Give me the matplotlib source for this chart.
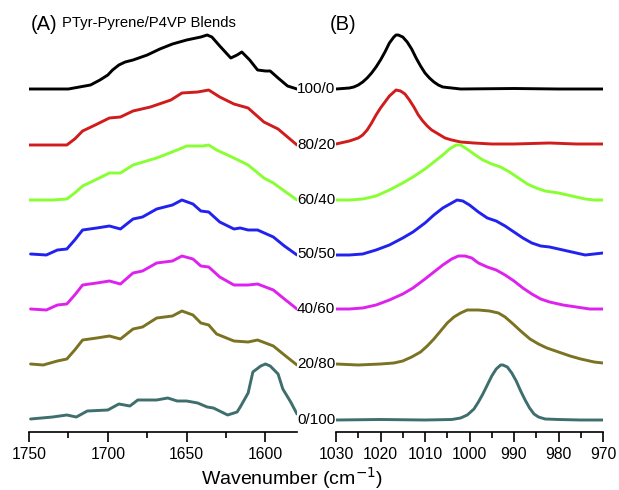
import numpy as np
import matplotlib
matplotlib.use("Agg")
import matplotlib.pyplot as plt
from matplotlib.ticker import MultipleLocator

plt.rcParams['font.family'] = ['Liberation Sans', 'DejaVu Sans']

labels = ["100/0", "80/20", "60/40", "50/50", "40/60", "20/80", "0/100"]
colors = ["#000000", "#d01c1c", "#88ff33", "#2222ee", "#dd22ee", "#7b7222", "#3e6e6e"]
offsets = [343, 287, 232, 178, 123, 68, 12]

# Panel A (1750-1580 cm-1)
a_x = [
    [1750, 1735, 1725, 1718, 1711, 1705, 1700, 1697, 1693, 1689, 1684, 1675, 1667, 1659, 1650, 1641, 1637, 1634, 1629, 1622, 1618, 1615, 1610, 1605, 1600, 1597, 1592, 1586, 1580],
    [1750, 1735, 1726, 1721, 1716, 1708, 1699, 1692, 1684, 1673, 1660, 1653, 1643, 1636, 1629, 1620, 1611, 1601, 1592, 1586, 1580],
    [1750, 1735, 1726, 1721, 1716, 1708, 1699, 1692, 1684, 1669, 1656, 1650, 1640, 1636, 1631, 1620, 1611, 1601, 1595, 1588, 1580],
    [1749, 1739, 1732, 1726, 1721, 1716, 1707, 1699, 1692, 1684, 1678, 1669, 1659, 1653, 1646, 1641, 1636, 1629, 1620, 1616, 1611, 1605, 1595, 1588, 1580],
    [1749, 1739, 1732, 1726, 1721, 1716, 1707, 1699, 1692, 1684, 1678, 1669, 1659, 1653, 1646, 1641, 1636, 1629, 1620, 1611, 1605, 1595, 1588, 1580],
    [1749, 1741, 1732, 1726, 1721, 1716, 1707, 1699, 1692, 1684, 1678, 1669, 1659, 1653, 1646, 1641, 1636, 1631, 1620, 1611, 1605, 1595, 1588, 1580],
    [1749, 1735, 1726, 1720, 1713, 1700, 1693, 1686, 1681, 1669, 1662, 1656, 1650, 1643, 1637, 1633, 1624, 1618, 1616, 1611, 1608, 1603, 1600, 1597, 1592, 1589, 1584, 1580],
]
a_y = [
    [0, 0, 0, 2, 4, 9, 14, 19, 24, 27, 29, 34, 40, 45, 49, 52, 54, 52, 43, 31, 34, 37, 29, 19, 18, 18, 11, 3, 0],
    [0, 0, 0, 6, 14, 20, 27, 28, 34, 38, 45, 52, 53, 55, 48, 41, 37, 23, 16, 8, 0],
    [0, 0, 1, 7, 14, 20, 27, 27, 35, 42, 50, 54, 54, 55, 50, 42, 35, 22, 17, 9, 0],
    [0, -1, 4, 5, 14, 24, 26, 28, 25, 35, 37, 45, 49, 54, 50, 43, 42, 32, 25, 26, 24, 24, 17, 8, -1],
    [0, -1, 4, 5, 14, 24, 26, 28, 25, 36, 38, 46, 48, 53, 50, 43, 42, 32, 24, 24, 25, 19, 10, 0],
    [0, -1, 3, 5, 14, 24, 26, 28, 25, 35, 37, 46, 48, 53, 49, 41, 39, 30, 23, 22, 24, 18, 9, -1],
    [1, 3, 5, 3, 9, 10, 16, 14, 20, 20, 22, 19, 19, 17, 13, 12, 5, 8, 13, 27, 48, 54, 56, 54, 46, 31, 18, 6],
]

# Panel B (1030-970 cm-1)
b_x = [
    [1030, 1027, 1026, 1025, 1024, 1023, 1022, 1021, 1020, 1019, 1018, 1017, 1016.5, 1016, 1015, 1014, 1013, 1012, 1011, 1010, 1009, 1008, 1007, 1006, 1004, 1002, 990, 980, 970],
    [1030, 1027, 1025, 1024, 1023, 1022, 1021, 1020, 1019, 1018, 1017, 1016.5, 1015.5, 1014.5, 1013.5, 1012.5, 1011.5, 1010.5, 1009.5, 1008.5, 1007, 1005.5, 1004, 1002, 999, 995, 990, 982, 976, 970],
    [1030, 1027, 1024, 1021, 1018, 1015, 1012.7, 1010, 1008, 1006, 1004.5, 1003, 1002, 1000.6, 999, 997, 995, 993, 991, 989, 987, 985, 983, 980, 978, 976, 974, 972, 970],
    [1030, 1027, 1024, 1021, 1018, 1015, 1012.7, 1010, 1008, 1006, 1004, 1002.8, 1001.5, 1000, 998, 996, 994, 992, 990, 988, 986, 984, 982, 979, 976, 974, 972, 970],
    [1030, 1027, 1024, 1021, 1018, 1015, 1012.7, 1010, 1008, 1006, 1004, 1002.5, 1001, 999.5, 998, 996, 994, 992, 990, 988, 986, 984, 982, 979, 976, 973, 970],
    [1030, 1025, 1020, 1017, 1015, 1013, 1011, 1009.5, 1008, 1006.5, 1005, 1003.5, 1002, 1000.5, 998, 995.5, 993.5, 992, 990.2, 988.5, 986.4, 984.5, 982.6, 980, 977.4, 975, 972, 970],
    [1030, 1020, 1010, 1004, 1002, 1000.5, 999, 998, 997, 996, 995, 994, 993, 992.5, 991.5, 990.5, 989.5, 988.5, 987.5, 986.5, 985.5, 984.5, 983, 980, 975, 970],
]
b_y = [
    [0, 1, 2, 4, 7, 11, 16, 22, 29, 37, 46, 52, 54, 54, 52, 47, 40, 31, 23, 16, 11, 7, 4, 2, 1, 0, 0.5, 0, 0],
    [1, 4, 7, 10, 15, 22, 30, 37, 43, 49, 53, 55, 54, 51, 45, 38, 30, 24, 19, 15, 11, 7, 5, 3, 2, 1, 1, 2, 1, 1],
    [0, 0, 1, 4, 10, 17, 23, 31, 38, 45, 51, 55, 55, 51, 46, 40, 36, 33, 28, 22, 16, 12, 9, 7, 5, 3, 1, 0, 0],
    [-1, -1, 0, 4, 9, 16, 22, 31, 39, 46, 51, 54, 53, 49, 42, 36, 33, 28, 22, 16, 11, 8, 7, 4, 1, -1, 0, 1],
    [0, 0, 1, 4, 9, 15, 21, 30, 37, 44, 50, 53, 53, 51, 46, 42, 39, 34, 28, 21, 15, 10, 7, 4, 2, 0, 0],
    [0, -1, 0, 1, 3, 7, 12, 18, 25, 33, 41, 47, 51, 54, 54, 53, 51, 47, 40, 33, 25, 20, 16, 12, 8, 5, 2, 1],
    [0, 0.5, 0, 0.5, 2, 5, 11, 18, 26, 35, 44, 51, 55, 55, 53, 47, 39, 29, 20, 12, 6, 3, 1, 0.5, 0, 0],
]

W, H = 619, 490
fig = plt.figure(figsize=(W / 100, H / 100), dpi=100)
axA = fig.add_axes([29 / W, 1 - 432 / H, 268 / W, 432 / H])
axB = fig.add_axes([336 / W, 1 - 432 / H, 267 / W, 432 / H])

for i in range(len(labels)):
    axA.plot(a_x[i], np.array(a_y[i]) + offsets[i], color=colors[i], lw=2.1,
             solid_joinstyle='round', solid_capstyle='round')
    axB.plot(b_x[i], np.array(b_y[i]) + offsets[i], color=colors[i], lw=2.1,
             solid_joinstyle='round', solid_capstyle='round')
    axA.annotate(labels[i], xy=(1, offsets[i]), xycoords=('axes fraction', 'data'),
                 xytext=(19, 0), textcoords='offset pixels', ha='center', va='center',
                 fontsize=11, annotation_clip=False)

for ax, lim, maj, mnr in [(axA, (1750, 1580), 50, 25), (axB, (1030, 970), 10, 5)]:
    ax.set_xlim(*lim)
    ax.set_ylim(0, 432)
    for s in ['left', 'right', 'top']:
        ax.spines[s].set_visible(False)
    ax.spines['bottom'].set_linewidth(1.2)
    ax.set_yticks([])
    ax.xaxis.set_major_locator(MultipleLocator(maj))
    ax.xaxis.set_minor_locator(MultipleLocator(mnr))
    ax.tick_params(axis='x', which='major', direction='out', length=7, width=1.2,
                   labelsize=11.3, pad=4)
    ax.tick_params(axis='x', which='minor', direction='out', length=4, width=1.2)
    ax.patch.set_alpha(0)

fig.text(31 / W, 1 - 24 / H, "(A)", fontsize=14.5, va='center', ha='left')
fig.text(62 / W, 1 - 23 / H, "PTyr-Pyrene/P4VP Blends", fontsize=10.7, va='center', ha='left')
fig.text(330 / W, 1 - 24 / H, "(B)", fontsize=14.5, va='center', ha='left')
fig.text(292 / W, 1 - 478 / H, "Wavenumber (cm$^{-1}$)", fontsize=14, va='center', ha='center')

fig.savefig("out.png", dpi=100)
